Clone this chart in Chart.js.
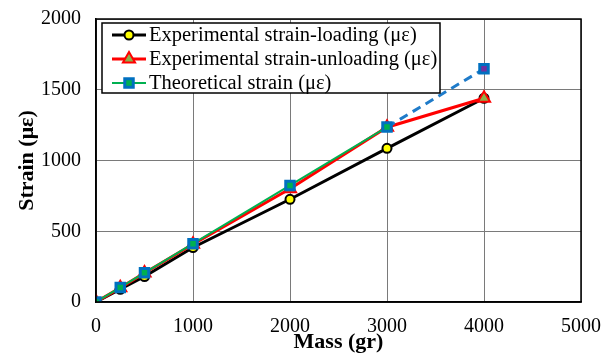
<!DOCTYPE html>
<html>
<head>
<meta charset="utf-8">
<script src="https://cdn.jsdelivr.net/npm/chart.js@4/dist/chart.umd.min.js"></script>
<style>
  html, body { margin: 0; padding: 0; background: #fff; }
  #wrap { width: 609px; height: 363px; }
</style>
</head>
<body>
<div id="wrap"><canvas id="strainChart" width="609" height="363"></canvas></div>
<script>
/* data */
const masses = [0, 250, 500, 1000, 2000, 3000, 4000];
const strainLoading = [0, 90, 180, 385, 726, 1086, 1440];
const strainUnloading = [0, 100, 205, 408, 800, 1235, 1440];
const strainTheory = [0, 103, 206, 412, 824, 1236, 1648];
const seriesNames = [
    'Experimental strain-loading (\u03bc\u03b5)',
    'Experimental strain-unloading (\u03bc\u03b5)',
    'Theoretical strain (\u03bc\u03b5)'
];

const serif = "'Liberation Serif', 'Times New Roman', serif";

function toPoints(ys) {
    return masses.map((m, i) => ({ x: m, y: ys[i] }));
}

// last theoretical segment is dashed blue
const dashedFrom = 5;

const theoryFill = strainTheory.map((v, i) => i === strainTheory.length - 1 ? '#7030A0' : '#00B050');

/* frame + legend */
const framePlugin = {
    id: 'frame',
    afterDatasetsDraw(chart) {
        const a = chart.chartArea;
        const c = chart.ctx;
        c.save();
        c.strokeStyle = '#000';
        c.lineWidth = 1.5;
        c.strokeRect(a.left, a.top, a.right - a.left, a.bottom - a.top);
        c.restore();
    },
    afterDraw(chart) {
        const c = chart.ctx;
        const bx = 102, by = 23, bw = 338, bh = 70;
        c.save();
        c.fillStyle = '#fff';
        c.fillRect(bx, by, bw, bh);
        c.strokeStyle = '#000';
        c.lineWidth = 1.5;
        c.strokeRect(bx, by, bw, bh);
        c.font = '20.5px ' + serif;
        c.textBaseline = 'middle';
        c.fillStyle = '#000';
        chart.data.datasets.forEach((ds, i) => {
            const y = by + 12 + i * 24;
            c.strokeStyle = ds.legendLine;
            c.lineWidth = ds.borderWidth;
            c.setLineDash([]);
            c.beginPath();
            c.moveTo(112, y);
            c.lineTo(146, y);
            c.stroke();
            c.fillStyle = ds.legendFill;
            c.strokeStyle = ds.legendBorder;
            c.lineWidth = ds.pointBorderWidth;
            Chart.helpers.drawPoint(c, {
                pointStyle: ds.pointStyle,
                radius: ds.pointRadius,
                borderWidth: ds.pointBorderWidth,
                rotation: 0
            }, 129, y);
            c.fillStyle = '#000';
            c.fillText(seriesNames[i], 149, y + 1);
        });
        c.restore();
    }
};

const ctx = document.getElementById('strainChart');
new Chart(ctx, {
    type: 'line',
    data: {
        datasets: [{
            label: seriesNames[0],
            data: toPoints(strainLoading),
            borderColor: '#000',
            borderWidth: 3,
            pointStyle: 'circle',
            pointRadius: 4.5,
            pointBorderWidth: 2,
            pointBackgroundColor: '#FFFF00',
            pointBorderColor: '#000',
            legendLine: '#000', legendFill: '#FFFF00', legendBorder: '#000',
            order: 3
        }, {
            label: seriesNames[1],
            data: toPoints(strainUnloading),
            borderColor: '#FF0000',
            borderWidth: 3,
            pointStyle: 'triangle',
            pointRadius: 7,
            pointBorderWidth: 2,
            pointBackgroundColor: '#8DB04A',
            pointBorderColor: '#FF0000',
            legendLine: '#FF0000', legendFill: '#8DB04A', legendBorder: '#FF0000',
            order: 2
        }, {
            label: seriesNames[2],
            data: toPoints(strainTheory),
            borderColor: '#00B050',
            borderWidth: 2,
            pointStyle: 'rect',
            pointRadius: 6,
            pointBorderWidth: 3,
            pointBackgroundColor: theoryFill,
            pointBorderColor: '#0070C0',
            legendLine: '#00B050', legendFill: '#00B050', legendBorder: '#0070C0',
            segment: {
                borderColor: s => s.p0DataIndex >= dashedFrom ? '#1F7BC9' : undefined,
                borderDash: s => s.p0DataIndex >= dashedFrom ? [9, 6] : undefined,
                borderWidth: s => s.p0DataIndex >= dashedFrom ? 3 : undefined
            },
            order: 1
        }]
    },
    options: {
        responsive: false,
        animation: false,
        layout: { padding: { top: 19, right: 28, left: 0, bottom: 0 } },
        plugins: {
            legend: { display: false },
            tooltip: { enabled: false }
        },
        elements: { line: { tension: 0 } },
        scales: {
            x: {
                type: 'linear',
                min: 0,
                max: 5000,
                afterFit(scale) {
                    scale.height = 61;
                    scale.paddingLeft = 0;
                    scale.paddingRight = 0;
                },
                ticks: {
                    stepSize: 1000,
                    color: '#000',
                    padding: 13,
                    maxRotation: 0,
                    font: { family: serif, size: 20 },
                    callback: v => String(v)
                },
                grid: { color: '#7a7a7a', lineWidth: 1, drawTicks: false },
                border: { color: '#000', width: 1.5 },
                title: {
                    display: true,
                    text: 'Mass (gr)',
                    color: '#000',
                    padding: { top: 0, bottom: 7 },
                    font: { family: serif, size: 22, weight: 'bold' }
                }
            },
            y: {
                min: 0,
                max: 2000,
                afterFit(scale) {
                    scale.width = 96;
                    scale.paddingTop = 0;
                    scale.paddingBottom = 0;
                },
                ticks: {
                    stepSize: 500,
                    color: '#000',
                    padding: 15,
                    font: { family: serif, size: 20 },
                    callback: v => String(v)
                },
                grid: { color: '#7a7a7a', lineWidth: 1, drawTicks: false },
                border: { color: '#000', width: 1.5 },
                title: {
                    display: true,
                    text: 'Strain (\u03bc\u03b5)',
                    color: '#000',
                    padding: { top: 14, bottom: 0 },
                    font: { family: serif, size: 22, weight: 'bold' }
                }
            }
        }
    },
    plugins: [framePlugin]
});
</script>
</body>
</html>
